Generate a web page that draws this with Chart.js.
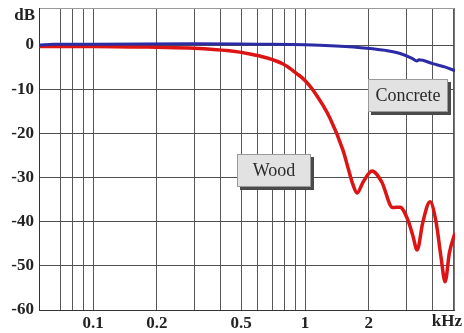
<!DOCTYPE html>
<html lang="en">
<head>
  <meta charset="UTF-8" />
  <title>Wood vs Concrete - attenuation</title>
  <script src="https://cdn.jsdelivr.net/npm/chart.js"></script>
  <style>
    html, body { margin: 0; padding: 0; background: #fff; }
  </style>
</head>
<body>
  <canvas id="attChart" width="464" height="333"></canvas>

  <script>
    // frequency in kHz, level in dB
    const woodFreq = [0.0556, 0.1, 0.2, 0.3, 0.44, 0.55, 0.65, 0.788, 0.917, 1.0, 1.09, 1.31, 1.51, 1.6, 1.68, 1.76, 1.88, 2.07, 2.3, 2.59, 2.81, 3.05, 3.22, 3.38, 3.6, 3.89, 4.15, 4.38, 4.58, 4.8, 5.1];
    const woodDb   = [-0.3, -0.3, -0.5, -0.7, -1.3, -2.0, -2.8, -4.3, -6.5, -8.0, -10.2, -16.5, -23.8, -28, -31.5, -33.5, -31, -28.5, -31, -36.8, -36.7, -39.5, -43, -46.4, -40, -35.5, -40, -48, -53.6, -47, -42.5];

    const concreteFreq = [0.0556, 0.065, 0.1, 0.3, 0.6, 1.0, 1.4, 1.96, 2.4, 2.81, 3.2, 3.37, 3.45, 4.0, 4.6, 5.1];
    const concreteDb   = [0, 0.2, 0.2, 0.3, 0.2, 0.1, -0.2, -0.7, -1.2, -1.9, -3.0, -3.6, -3.3, -4.2, -5.0, -5.8];

    const gridFreqs  = [0.07, 0.08, 0.09, 0.1, 0.2, 0.3, 0.4, 0.5, 0.6, 0.7, 0.8, 0.9, 1, 2, 3, 4, 5];
    const freqLabels = [0.1, 0.2, 0.5, 1, 2];
    const dbTicks    = [-60, -50, -40, -30, -20, -10, 0];

    const SERIF = '"Liberation Serif", "Times New Roman", serif';

    const toPoints = (xs, ys) => xs.map((f, i) => ({ x: f, y: ys[i] }));

    // frame, axis units and the two curve captions
    const decor = {
      id: 'decor',
      beforeDatasetsDraw(chart) {
        const { ctx, chartArea: a } = chart;
        ctx.save();
        ctx.lineWidth = 1;
        ctx.strokeStyle = '#9a9a9a';
        ctx.beginPath();
        ctx.moveTo(a.left, a.top + 0.5);
        ctx.lineTo(a.right, a.top + 0.5);
        ctx.stroke();
        ctx.strokeStyle = '#777';
        ctx.beginPath();
        ctx.moveTo(a.right - 0.5, a.top);
        ctx.lineTo(a.right - 0.5, a.bottom);
        ctx.stroke();
        ctx.strokeStyle = '#333';
        ctx.beginPath();
        ctx.moveTo(a.left + 0.5, a.top);
        ctx.lineTo(a.left + 0.5, a.bottom + 0.5);
        ctx.lineTo(a.right, a.bottom + 0.5);
        ctx.stroke();
        ctx.restore();
      },
      afterDraw(chart) {
        const { ctx, chartArea: a, scales: { x, y } } = chart;
        ctx.save();
        ctx.fillStyle = '#222';
        ctx.font = 'bold 17px ' + SERIF;
        ctx.textBaseline = 'middle';
        ctx.textAlign = 'right';
        ctx.fillText('dB', a.left - 4, 16);
        ctx.fillText('kHz', 462, 322);

        const box = (text, f0, f1, d0, d1) => {
          const l = Math.round(x.getPixelForValue(f0));
          const r = Math.round(x.getPixelForValue(f1));
          const t = Math.round(y.getPixelForValue(d0));
          const b = Math.round(y.getPixelForValue(d1));
          ctx.fillStyle = '#4a4a4a';
          ctx.fillRect(l + 3, t + 3, r - l, b - t);
          ctx.fillStyle = '#e2e2e2';
          ctx.fillRect(l, t, r - l, b - t);
          ctx.strokeStyle = '#9a9a9a';
          ctx.lineWidth = 1;
          ctx.strokeRect(l + 0.5, t + 0.5, r - l - 1, b - t - 1);
          ctx.fillStyle = '#2a2a2a';
          ctx.font = '18px ' + SERIF;
          ctx.textAlign = 'center';
          ctx.fillText(text, (l + r) / 2, (t + b) / 2 + 1);
        };
        box('Concrete', 1.98, 4.75, -7.7, -15.2);
        box('Wood', 0.478, 1.07, -24.7, -32.2);
        ctx.restore();
      }
    };

    new Chart(document.getElementById('attChart'), {
      type: 'line',
      data: {
        datasets: [
          {
            label: 'Concrete',
            data: toPoints(concreteFreq, concreteDb),
            borderColor: '#2b2ba6',
            borderWidth: 3,
            pointRadius: 0,
            cubicInterpolationMode: 'monotone'
          },
          {
            label: 'Wood',
            data: toPoints(woodFreq, woodDb),
            borderColor: '#dc1414',
            borderWidth: 3.5,
            pointRadius: 0,
            cubicInterpolationMode: 'monotone'
          }
        ]
      },
      options: {
        responsive: false,
        animation: false,
        layout: { padding: { top: 8, right: 9, left: 0, bottom: 0 } },
        plugins: {
          legend: { display: false },
          tooltip: { enabled: false }
        },
        scales: {
          x: {
            type: 'logarithmic',
            min: 0.0556,
            max: 5.1,
            afterBuildTicks: s => { s.ticks = gridFreqs.map(v => ({ value: v })); },
            afterFit: s => { s.height = 23; s.paddingLeft = 0; s.paddingRight = 0; },
            ticks: {
              autoSkip: false,
              maxRotation: 0,
              padding: 3,
              color: '#222',
              font: { family: SERIF, size: 17, weight: 'bold' },
              callback: v => freqLabels.includes(v) ? String(v) : ''
            },
            grid: { color: '#585858', drawTicks: false },
            border: { display: false }
          },
          y: {
            type: 'linear',
            min: -60,
            max: 8.4,
            afterBuildTicks: s => { s.ticks = dbTicks.map(v => ({ value: v })); },
            afterFit: s => { s.width = 39; s.paddingTop = 0; s.paddingBottom = 0; },
            ticks: {
              padding: 5,
              color: '#222',
              font: { family: SERIF, size: 17, weight: 'bold' },
              callback: v => String(v)
            },
            grid: { color: '#505050', drawTicks: false },
            border: { display: false }
          }
        }
      },
      plugins: [decor]
    });
  </script>
</body>
</html>
